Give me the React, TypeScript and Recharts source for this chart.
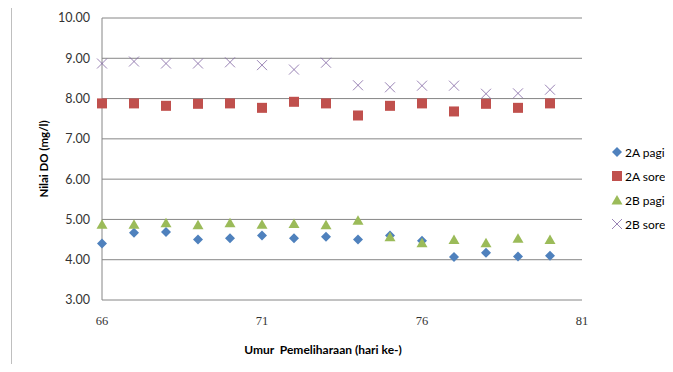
import { ScatterChart, Scatter, XAxis, YAxis, CartesianGrid } from "recharts";

const days = [66, 67, 68, 69, 70, 71, 72, 73, 74, 75, 76, 77, 78, 79, 80];
const aPagi = [4.4, 4.67, 4.69, 4.5, 4.53, 4.6, 4.53, 4.57, 4.5, 4.6, 4.47, 4.07, 4.17, 4.08, 4.1];
const aSore = [7.88, 7.88, 7.82, 7.87, 7.88, 7.77, 7.92, 7.88, 7.58, 7.82, 7.88, 7.68, 7.87, 7.77, 7.88];
const bPagi = [4.88, 4.88, 4.92, 4.87, 4.92, 4.88, 4.9, 4.87, 4.98, 4.57, 4.42, 4.5, 4.42, 4.53, 4.5];
const bSore = [8.87, 8.92, 8.87, 8.87, 8.9, 8.83, 8.72, 8.89, 8.33, 8.28, 8.32, 8.32, 8.12, 8.13, 8.22];
const xTicks = [66, 71, 76, 81];
const yTicks = [3, 4, 5, 6, 7, 8, 9, 10];

const toPoints = (vals: number[]) => days.map((d, i) => ({ x: d, y: vals[i] }));

const Diamond = ({ cx, cy }: any) => (
  <path d={`M${cx},${cy - 5}L${cx + 5},${cy}L${cx},${cy + 5}L${cx - 5},${cy}Z`} fill="#4F81BD" />
);
const Square = ({ cx, cy }: any) => (
  <rect x={cx - 5} y={cy - 5} width={10} height={10} fill="#C0504D" />
);
const Triangle = ({ cx, cy }: any) => (
  <path d={`M${cx},${cy - 5}L${cx + 5.5},${cy + 4.5}L${cx - 5.5},${cy + 4.5}Z`} fill="#9BBB59" />
);
const Cross = ({ cx, cy }: any) => (
  <path
    d={`M${cx - 5},${cy - 5}L${cx + 5},${cy + 5}M${cx + 5},${cy - 5}L${cx - 5},${cy + 5}`}
    stroke="#8064A2"
    strokeWidth={0.8}
    fill="none"
  />
);

const series = [
  { name: "2A pagi", data: toPoints(aPagi), shape: Diamond },
  { name: "2A sore", data: toPoints(aSore), shape: Square },
  { name: "2B pagi", data: toPoints(bPagi), shape: Triangle },
  { name: "2B sore", data: toPoints(bSore), shape: Cross },
];

export default function App() {
  return (
    <div style={{ position: "relative", width: 673, height: 372, margin: -8, background: "#fff", overflow: "hidden" }}>
      <div
        style={{
          position: "absolute",
          left: 11,
          top: 3,
          width: 700,
          height: 400,
          borderLeft: "1px solid #bfbfbf",
          borderTop: "1px solid #bfbfbf",
        }}
      />
      <ScatterChart width={673} height={372} margin={{ top: 18, right: 91, bottom: 0, left: 0 }}>
        <CartesianGrid vertical={false} stroke="#868686" />
        <XAxis
          type="number"
          dataKey="x"
          domain={[66, 81]}
          ticks={xTicks}
          height={72}
          axisLine={false}
          tickLine={false}
          tickSize={0}
          tickMargin={16}
          tick={{ fontSize: 12.5, fill: "#333", fontFamily: "Liberation Serif" }}
          label={() => (
            <text
              x={323}
              y={354}
              textAnchor="middle"
              fontSize={12}
              fontWeight="bold"
              fontFamily="Lato"
              fill="#000"
              style={{ whiteSpace: "pre" }}
            >
              Umur  Pemeliharaan (hari ke-)
            </text>
          )}
        />
        <YAxis
          type="number"
          dataKey="y"
          domain={[3, 10]}
          ticks={yTicks}
          width={102}
          stroke="#868686"
          tickLine={false}
          tickSize={0}
          tickMargin={12}
          tickFormatter={(v: number) => v.toFixed(2)}
          tick={{ fontSize: 12.5, fill: "#333", fontFamily: "Lato" }}
          label={() => (
            <text
              x={45}
              y={159}
              textAnchor="middle"
              dominantBaseline="middle"
              fontSize={11.5}
              fontWeight="bold"
              fontFamily="Lato"
              fill="#000"
              transform="rotate(-90 45 159)"
            >
              Nilai DO (mg/l)
            </text>
          )}
        />
        {series.map((s) => (
          <Scatter key={s.name} name={s.name} data={s.data} shape={s.shape} isAnimationActive={false} />
        ))}
      </ScatterChart>
      <div style={{ position: "absolute", left: 610, top: 140, fontFamily: "Lato", fontSize: 12, color: "#000" }}>
        {series.map((s) => {
          const Shape = s.shape;
          return (
            <div key={s.name} style={{ display: "flex", alignItems: "center", height: 24 }}>
              <svg width={14} height={14}>
                <Shape cx={7} cy={7} />
              </svg>
              <span style={{ marginLeft: 1 }}>{s.name}</span>
            </div>
          );
        })}
      </div>
    </div>
  );
}
